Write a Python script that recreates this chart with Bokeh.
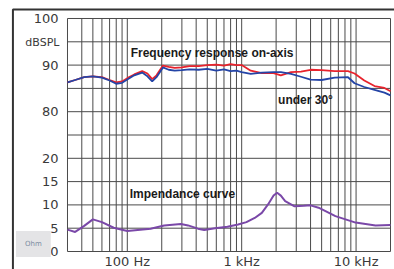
from bokeh.plotting import figure
from bokeh.models import (Range1d, FixedTicker, Label)
from bokeh.embed import file_html
from bokeh.resources import INLINE

# --- data ---
freq_spl = [30, 35, 42, 50, 60, 70, 80, 90, 100, 115, 135, 150, 165, 180, 205, 230, 260,
            300, 350, 420, 500, 600, 700, 800, 900, 1000, 1200, 1500, 1900, 2200, 2700,
            3300, 4000, 5000, 6500, 8500, 9700, 11800, 14500, 17700, 20000]
spl_on_axis = [86.3, 86.8, 87.4, 87.6, 87.4, 86.8, 86.3, 86.5, 87.2, 88.0, 88.7, 88.2, 87.0,
               87.8, 89.9, 89.6, 89.4, 89.5, 89.8, 89.8, 90.0, 90.1, 89.9, 90.2, 90.0, 90.0,
               88.8, 88.3, 88.3, 87.8, 88.5, 88.6, 89.0, 88.9, 88.7, 88.7, 88.2, 86.7, 85.5,
               85.1, 84.4]
spl_30deg = [86.3, 86.8, 87.4, 87.6, 87.3, 86.7, 86.0, 86.2, 86.9, 87.8, 88.4, 87.6, 86.5,
             87.4, 89.5, 89.0, 88.8, 88.9, 89.1, 89.0, 89.2, 88.8, 89.1, 88.7, 88.8, 88.5,
             88.1, 88.4, 88.5, 88.5, 88.1, 87.5, 86.9, 86.8, 87.3, 87.4, 86.1, 85.3, 84.7,
             84.1, 83.5]

freq_imp = [30, 35, 42, 50, 60, 76, 100, 160, 210, 294, 340, 415, 470, 584, 750, 930, 1100,
            1300, 1500, 1700, 1900, 2040, 2200, 2400, 2900, 3500, 4000, 4700, 6600, 9900,
            14800, 20000]
impedance = [4.7, 4.2, 5.5, 6.9, 6.3, 5.1, 4.4, 4.9, 5.6, 5.9, 5.6, 4.9, 4.6, 5.0, 5.3, 5.8,
             6.3, 7.2, 8.3, 10.1, 12.0, 12.6, 12.0, 10.8, 9.7, 9.8, 9.9, 9.4, 7.6, 6.2, 5.6, 5.7]

y_ticks = [0, 5, 10, 15, 20, 30, 40, 50]
y_tick_labels = {30: "80", 40: "90", 50: "100"}
x_ticks = [100, 1000, 10000]
x_tick_labels = {100: "100 Hz", 1000: "1 kHz", 10000: "10 kHz"}
x_grid = [30, 40, 50, 60, 70, 80, 90, 100, 200, 300, 400, 500, 600, 700, 800, 900,
          1000, 2000, 3000, 4000, 5000, 6000, 7000, 8000, 9000, 10000, 20000]
y_grid = list(range(0, 51, 5))
f_min, f_max = 30, 20000
ohm_min, ohm_max = 0, 50

# view window (the plotting frame spans the whole picture)
view_f = (7.787, 21677)
view_y = (-3.862, 53.862)
# outer box edge (left and top sides visible)
box_f, box_top = 10.0, 51.93

GRID = "#4a4a4a"
TXT = "#3a3a3a"

p = figure(width=394, height=269, x_axis_type="log",
           x_range=Range1d(*view_f), y_range=Range1d(*view_y),
           output_backend="svg", toolbar_location=None,
           min_border_left=0, min_border_right=0, min_border_top=0, min_border_bottom=0)
p.extra_y_ranges = {"db": Range1d(view_y[0] + 50, view_y[1] + 50)}

p.background_fill_color = "white"
p.border_fill_color = "white"
p.outline_line_color = None
p.xgrid.visible = False
p.ygrid.visible = False

# grid
p.segment(x0=x_grid, x1=x_grid, y0=[ohm_min] * len(x_grid), y1=[ohm_max] * len(x_grid),
          line_color=GRID, line_width=1)
p.segment(x0=[f_min] * len(y_grid), x1=[f_max] * len(y_grid), y0=y_grid, y1=y_grid,
          line_color=GRID, line_width=1)
# outer box
p.line([box_f, box_f, view_f[1]], [view_y[0], box_top, box_top],
       line_color="#333333", line_width=2)

xa = p.xaxis[0]
xa.ticker = FixedTicker(ticks=x_ticks)
xa.major_label_overrides = x_tick_labels
xa.fixed_location = ohm_min
ya = p.yaxis[0]
ya.ticker = FixedTicker(ticks=y_ticks)
ya.major_label_overrides = y_tick_labels
ya.fixed_location = f_min
for ax in (xa, ya):
    ax.axis_line_color = None
    ax.major_tick_line_color = None
    ax.minor_tick_line_color = None
    ax.major_tick_out = 0
    ax.major_tick_in = 0
    ax.minor_tick_out = 0
    ax.minor_tick_in = 0
    ax.major_label_text_font = "DejaVu Sans"
    ax.major_label_text_font_size = "13px"
    ax.major_label_text_color = TXT
xa.major_label_standoff = 2
ya.major_label_standoff = 9

p.line(freq_spl, spl_on_axis, y_range_name="db", line_color="#e8232d", line_width=1.8)
p.line(freq_spl, spl_30deg, y_range_name="db", line_color="#2444a6", line_width=1.8)
p.line(freq_imp, impedance, line_color="#7a48a8", line_width=2)

def lab(x, y, text, rng="default", **kw):
    opts = dict(text_font="Liberation Sans", text_font_size="12px", text_font_style="bold",
                text_color="#1a1a1a", text_baseline="middle")
    opts.update(kw)
    p.add_layout(Label(x=x, y=y, text=text, y_range_name=rng, **opts))

lab(107, 92.7, "Frequency response on-axis", rng="db")
lab(2080, 82.6, "under 30°", rng="db")
lab(105, 12.4, "Impendance curve")
lab(25.5, 94.8, "dBSPL", rng="db", text_font="DejaVu Sans", text_font_size="11px",
    text_font_style="normal", text_color=TXT, text_align="right")
lab(15.1, 1.6, "Ohm", text_font="DejaVu Sans", text_font_size="7px",
    text_font_style="normal", text_color="#7d8ca3", text_align="center",
    background_fill_color="#e4e4e6", padding=(9, 9))

open("out.html", "w").write(file_html(p, INLINE))
